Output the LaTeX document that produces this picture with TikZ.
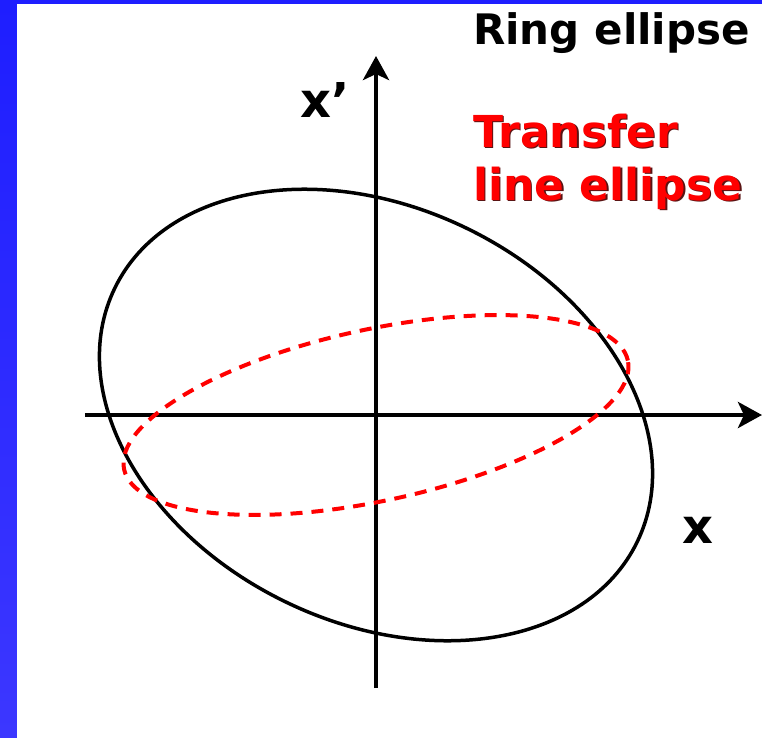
\documentclass[tikz,border=0pt]{standalone}
\usepackage{fontspec}
\setmainfont{DejaVu Sans}
\usepackage{xcolor}
\usetikzlibrary{arrows.meta}
\definecolor{barblue}{RGB}{30,30,255}
\definecolor{barblue2}{RGB}{60,55,255}
\definecolor{shadowred}{RGB}{90,20,20}
\tikzset{
  axis/.style={line width=4.5pt, -{Stealth[length=24pt, width=26pt, inset=6pt]}},
  ringell/.style={line width=3.5pt},
  tlell/.style={line width=4pt, red, dash pattern=on 12pt off 9pt},
  lbl/.style={inner sep=0pt, anchor=base west, font=\bfseries\fontsize{48}{48}\selectfont},
  txt/.style={inner sep=0pt, anchor=base west, font=\bfseries\fontsize{42}{42}\selectfont},
  redtxt/.style={txt, font=\bfseries\fontsize{44}{44}\selectfont},
  every picture/.style={line cap=butt, line join=round}
}
\begin{document}
\begin{tikzpicture}[x=1pt, y=1pt]
  \useasboundingbox (-376,-322) rectangle (386,415);
  \shade[top color=barblue, bottom color=barblue2] (-376,-322) rectangle (-359,415);
  \fill[barblue] (-376,411) rectangle (386,415);

  \coordinate (O) at (0,0);
  \coordinate (xs) at (-291,0);
  \coordinate (xe) at (386,0);
  \coordinate (ys) at (0,-273);
  \coordinate (ye) at (0,359);

  \draw[axis] (xs) -- (xe);
  \draw[axis] (ys) -- (ye);

  \draw[ringell, rotate=-25.9] (O) ellipse [x radius=290.4, y radius=207.6];
  \draw[tlell, rotate=12.2] (O) ellipse [x radius=257.7, y radius=85.7];

  \node[lbl] (xp) at (-76,298) {x’};
  \node[lbl] (xl) at (306,-128) {x};

  \node[txt] (ring) at (97,370) {Ring ellipse};
  \node[redtxt, shadowred] at (98.5,266.5) {Transfer};
  \node[redtxt, red] (tl1) at (97,268) {Transfer};
  \node[redtxt, shadowred] at (98.5,213.5) {line ellipse};
  \node[redtxt, red] (tl2) at (97,215) {line ellipse};
\end{tikzpicture}
\end{document}
